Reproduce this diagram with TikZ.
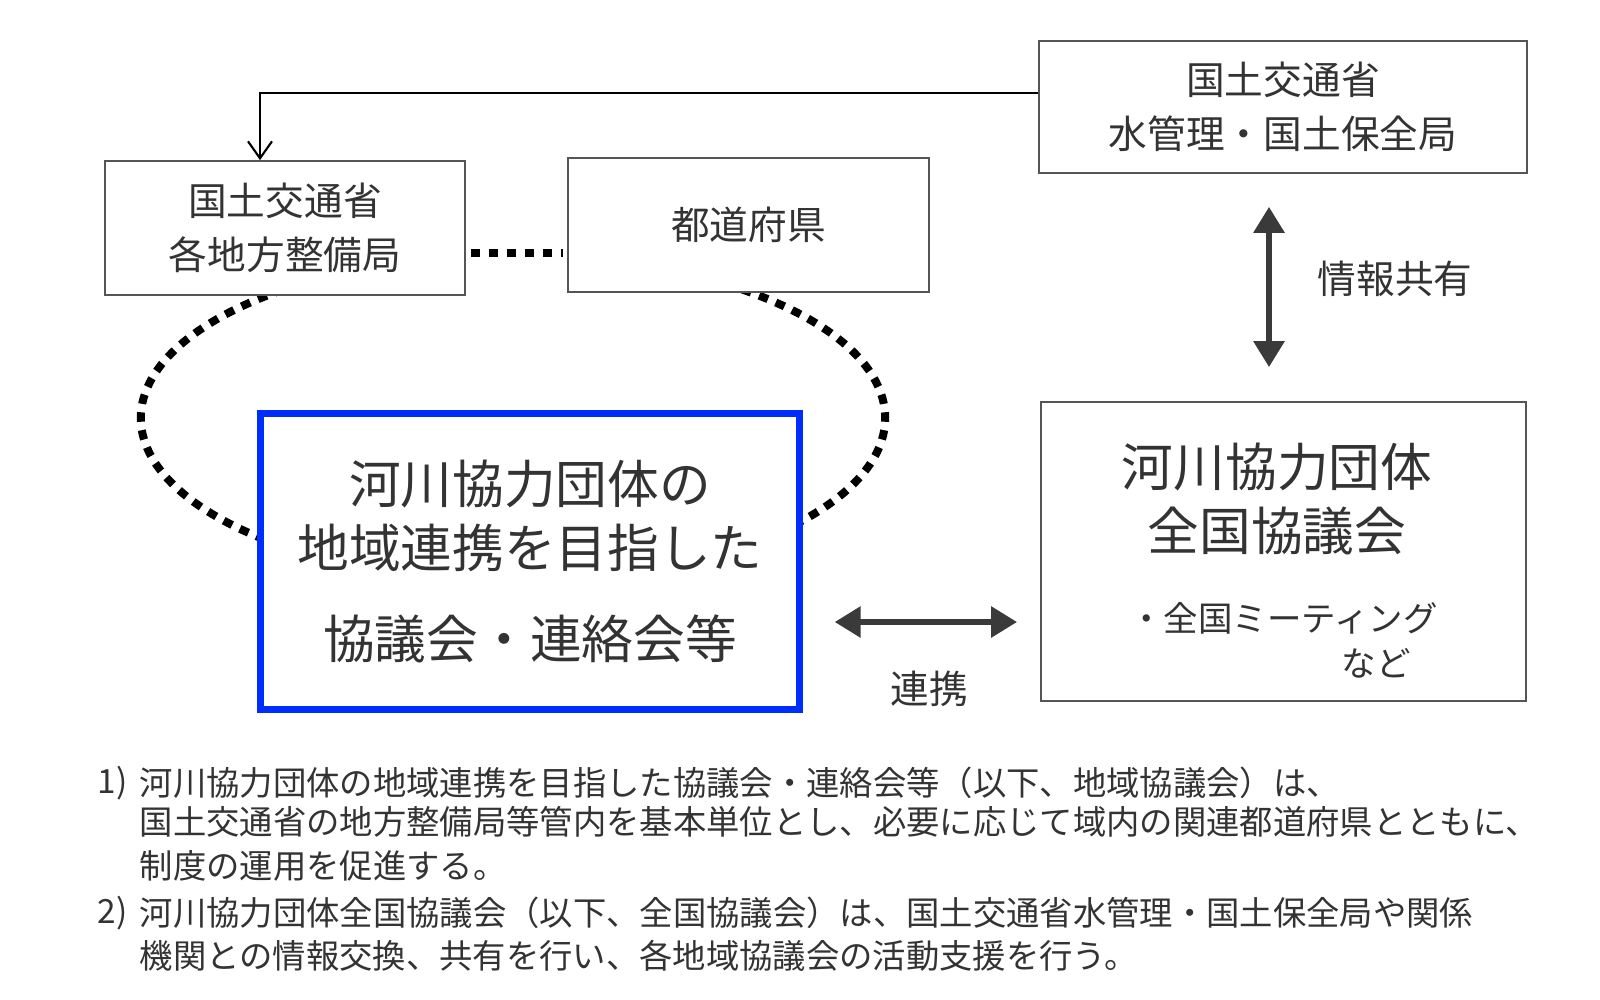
\documentclass[tikz,border=0pt]{standalone}
\usepackage{fontspec}
\setmainfont{Noto Sans CJK JP}
\usetikzlibrary{arrows.meta,backgrounds,calc}
\definecolor{txt}{HTML}{333333}
\definecolor{edge}{HTML}{555555}
\definecolor{bluebox}{RGB}{0,45,255}
\definecolor{arr}{HTML}{3A3A3A}
\begin{document}
\begin{tikzpicture}[x=0.01cm,y=0.01cm,
  box/.style={draw=edge, line width=0.45pt, fill=white, text=txt, align=center, inner sep=0pt, rectangle},
  bigfont/.style={font=\fontsize{14.7pt}{18.2pt}\selectfont},
  midfont/.style={font=\fontsize{11pt}{15.4pt}\selectfont},
  smallfont/.style={font=\fontsize{9.8pt}{12pt}\selectfont},
  dots/.style={line width=0.08cm, dash pattern=on 0.095cm off 0.085cm, black},
  thickarr/.style={arr, line width=0.06cm, {Triangle[width=0.3cm,length=0.26cm]}-{Triangle[width=0.3cm,length=0.26cm]}},
  plaintext/.style={text=txt, inner sep=0pt},
  note/.style={text=txt, font=\fontsize{9.48pt}{11pt}\selectfont, anchor=west, inner sep=0pt}
]
\useasboundingbox (0,0) rectangle (1600,-1000);

% boxes
\node[box, midfont, minimum width=4.88cm, minimum height=1.32cm] (mlit) at (1283,-107)
  {国土交通省\\水管理・国土保全局};
\node[box, midfont, minimum width=3.60cm, minimum height=1.34cm] (regional) at (285,-228)
  {国土交通省\\各地方整備局};
\node[box, midfont, minimum width=3.61cm, minimum height=1.34cm] (pref) at (748.5,-225)
  {都道府県};
\node[box, bigfont, draw=bluebox, line width=0.07cm, minimum width=5.38cm, minimum height=2.95cm] (blue) at (530,-561.5)
  {河川協力団体の\\地域連携を目指した\\[7.7pt]協議会・連絡会等};
\node[box, minimum width=4.85cm, minimum height=2.99cm] (national) at (1283.5,-551.5) {};
\node[plaintext, bigfont, align=center] (natT) at (1277,-499) {河川協力団体\\全国協議会};
\node[plaintext, smallfont] (natS) at (1283.5,-618) {・全国ミーティング};
\node[plaintext, smallfont] (natN) at (1376,-663) {など};

% labels
\node[plaintext, midfont] (share) at (1395,-279) {情報共有};
\node[plaintext, midfont] (coop) at (929,-689) {連携};

% connectors
\coordinate (bend) at (260,-93);
\draw[black, line width=0.6pt, -{Straight Barb[length=0.17cm,width=0.24cm]}]
  ([yshift=0.14cm]mlit.west) -| (regional.north -| bend);
\coordinate (vx) at (1269,0);
\draw[thickarr, shorten <=0.33cm, shorten >=0.34cm] (mlit.south -| vx) -- (national.north -| vx);
\coordinate (hy) at (0,-622);
\draw[thickarr, shorten <=0.32cm, shorten >=0.23cm] (blue.east |- hy) -- (national.west |- hy);
\coordinate (gy) at (0,-253);
\draw[dots, shorten <=0.05cm, shorten >=0.04cm] (regional.east |- gy) -- (pref.west |- gy);

\coordinate (ec) at (513,-418);
\begin{scope}[on background layer]
  \fill[white] (0,0) rectangle (1600,-1000);
  \draw[dots] ($(ec)+(128:3.72cm and 1.63cm)$) arc[start angle=128, end angle=229, x radius=3.72cm, y radius=1.63cm];
  \draw[dots] ($(ec)+(52:3.72cm and 1.63cm)$) arc[start angle=52, end angle=-42, x radius=3.72cm, y radius=1.63cm];
\end{scope}

% notes
\node[note] (n1) at (97,-783) {1)};
\node[note] (n1a) at (139,-783) {河川協力団体の地域連携を目指した協議会・連絡会等（以下、地域協議会）は、};
\node[note] (n1b) at (139,-822) {国土交通省の地方整備局等管内を基本単位とし、必要に応じて域内の関連都道府県とともに、};
\node[note] (n1c) at (139,-866) {制度の運用を促進する。};
\node[note] (n2) at (97,-913) {2)};
\node[note] (n2a) at (139,-913) {河川協力団体全国協議会（以下、全国協議会）は、国土交通省水管理・国土保全局や関係};
\node[note] (n2b) at (139,-956) {機関との情報交換、共有を行い、各地域協議会の活動支援を行う。};
\end{tikzpicture}
\end{document}
